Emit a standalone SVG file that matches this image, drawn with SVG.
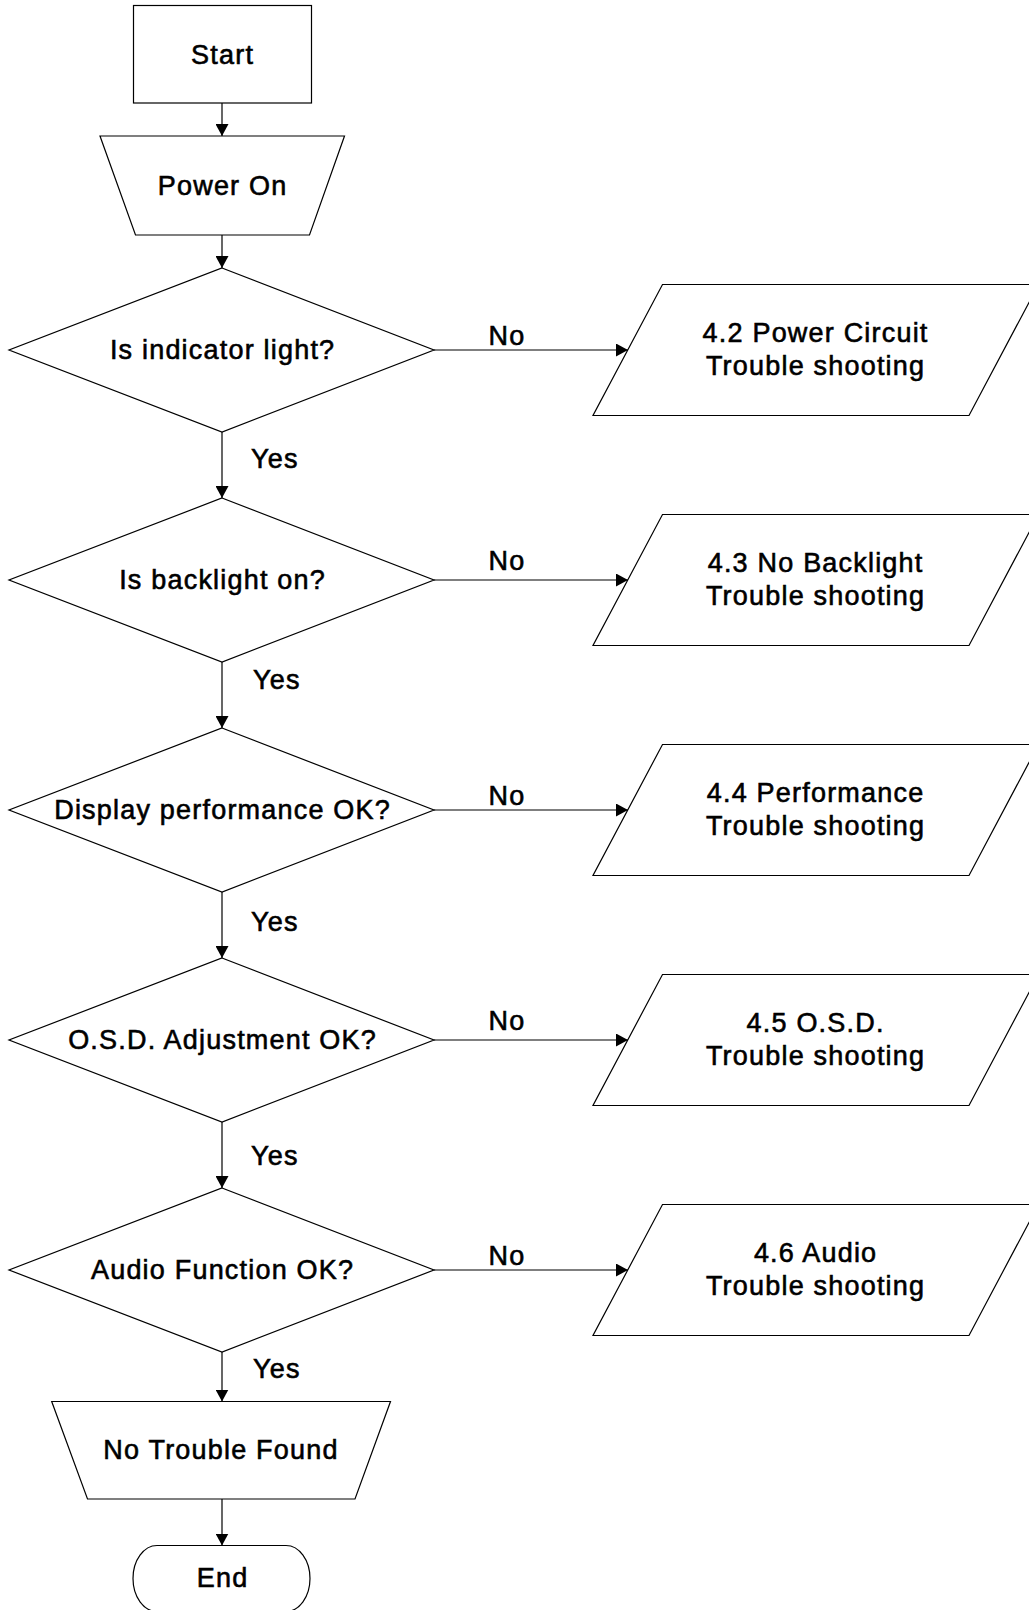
<svg xmlns="http://www.w3.org/2000/svg" width="1029" height="1610" viewBox="0 0 1029 1610">
<style>
.shape{fill:#fff;stroke:#000;stroke-width:1.2}
.conn{fill:none;stroke:#000;stroke-width:1.2;marker-end:url(#arr)}
text{font-family:"Liberation Sans",Arial,sans-serif;font-size:27px;fill:#000;stroke:#000;stroke-width:0.6px;letter-spacing:1.2px}
.c{text-anchor:middle}
</style>
<defs>
<marker id="arr" markerUnits="userSpaceOnUse" markerWidth="13" markerHeight="13" refX="12" refY="6.5" orient="auto">
<path d="M0,0 L12,6.5 L0,13 Z" fill="#000"/>
</marker>
</defs>
<rect width="1029" height="1610" fill="#fff"/>
<g id="connectors">
<line class="conn" x1="222" y1="103" x2="222" y2="136"/>
<line class="conn" x1="222" y1="235" x2="222" y2="268"/>
<line class="conn" x1="222" y1="432" x2="222" y2="498"/>
<line class="conn" x1="222" y1="662" x2="222" y2="728"/>
<line class="conn" x1="222" y1="892" x2="222" y2="958"/>
<line class="conn" x1="222" y1="1122" x2="222" y2="1188"/>
<line class="conn" x1="222" y1="1352" x2="222" y2="1401.5"/>
<line class="conn" x1="222" y1="1499" x2="222" y2="1545.5"/>
<line class="conn" x1="434" y1="350" x2="628" y2="350"/>
<line class="conn" x1="434" y1="580" x2="628" y2="580"/>
<line class="conn" x1="434" y1="810" x2="628" y2="810"/>
<line class="conn" x1="434" y1="1040" x2="628" y2="1040"/>
<line class="conn" x1="434" y1="1270" x2="628" y2="1270"/>
<text x="251" y="468">Yes</text>
<text x="253" y="689">Yes</text>
<text x="251" y="931">Yes</text>
<text x="251" y="1165">Yes</text>
<text x="253" y="1378">Yes</text>
<text class="c" x="507" y="345">No</text>
<text class="c" x="507" y="570">No</text>
<text class="c" x="507" y="805">No</text>
<text class="c" x="507" y="1030">No</text>
<text class="c" x="507" y="1265">No</text>
</g>
<g id="start">
<rect class="shape" x="133.5" y="5.5" width="178" height="97.5"/>
<text class="c" x="222.6" y="64">Start</text>
</g>
<g id="power-on">
<polygon class="shape" points="100,136 344.5,136 309.5,235 135.5,235"/>
<text class="c" x="222.6" y="195">Power On</text>
</g>
<g id="d-indicator">
<polygon class="shape" points="222,268 434,350 222,432 9,350"/>
<text class="c" x="222.6" y="359">Is indicator light?</text>
</g>
<g id="d-backlight">
<polygon class="shape" points="222,498 434,580 222,662 9,580"/>
<text class="c" x="222.6" y="589">Is backlight on?</text>
</g>
<g id="d-display">
<polygon class="shape" points="222,728 434,810 222,892 9,810"/>
<text class="c" x="222.6" y="819">Display performance OK?</text>
</g>
<g id="d-osd">
<polygon class="shape" points="222,958 434,1040 222,1122 9,1040"/>
<text class="c" x="222.6" y="1049">O.S.D. Adjustment OK?</text>
</g>
<g id="d-audio">
<polygon class="shape" points="222,1188 434,1270 222,1352 9,1270"/>
<text class="c" x="222.6" y="1279">Audio Function OK?</text>
</g>
<g id="p-power">
<polygon class="shape" points="662.5,284.5 1038.5,284.5 969,415.5 593,415.5"/>
<text class="c" x="815.6" y="342">4.2 Power Circuit</text>
<text class="c" x="815.6" y="375">Trouble shooting</text>
</g>
<g id="p-backlight">
<polygon class="shape" points="662.5,514.5 1038.5,514.5 969,645.5 593,645.5"/>
<text class="c" x="815.6" y="572">4.3 No Backlight</text>
<text class="c" x="815.6" y="605">Trouble shooting</text>
</g>
<g id="p-performance">
<polygon class="shape" points="662.5,744.5 1038.5,744.5 969,875.5 593,875.5"/>
<text class="c" x="815.6" y="802">4.4 Performance</text>
<text class="c" x="815.6" y="835">Trouble shooting</text>
</g>
<g id="p-osd">
<polygon class="shape" points="662.5,974.5 1038.5,974.5 969,1105.5 593,1105.5"/>
<text class="c" x="815.6" y="1032">4.5 O.S.D.</text>
<text class="c" x="815.6" y="1065">Trouble shooting</text>
</g>
<g id="p-audio">
<polygon class="shape" points="662.5,1204.5 1038.5,1204.5 969,1335.5 593,1335.5"/>
<text class="c" x="815.6" y="1262">4.6 Audio</text>
<text class="c" x="815.6" y="1295">Trouble shooting</text>
</g>
<g id="no-trouble">
<polygon class="shape" points="51.7,1401.5 390.5,1401.5 355,1499 87.5,1499"/>
<text class="c" x="221" y="1459">No Trouble Found</text>
</g>
<g id="end">
<path class="shape" d="M157,1545.5 H286 A24,33 0 0 1 286,1611.5 H157 A24,33 0 0 1 157,1545.5 Z"/>
<text class="c" x="222.6" y="1587">End</text>
</g>
</svg>
